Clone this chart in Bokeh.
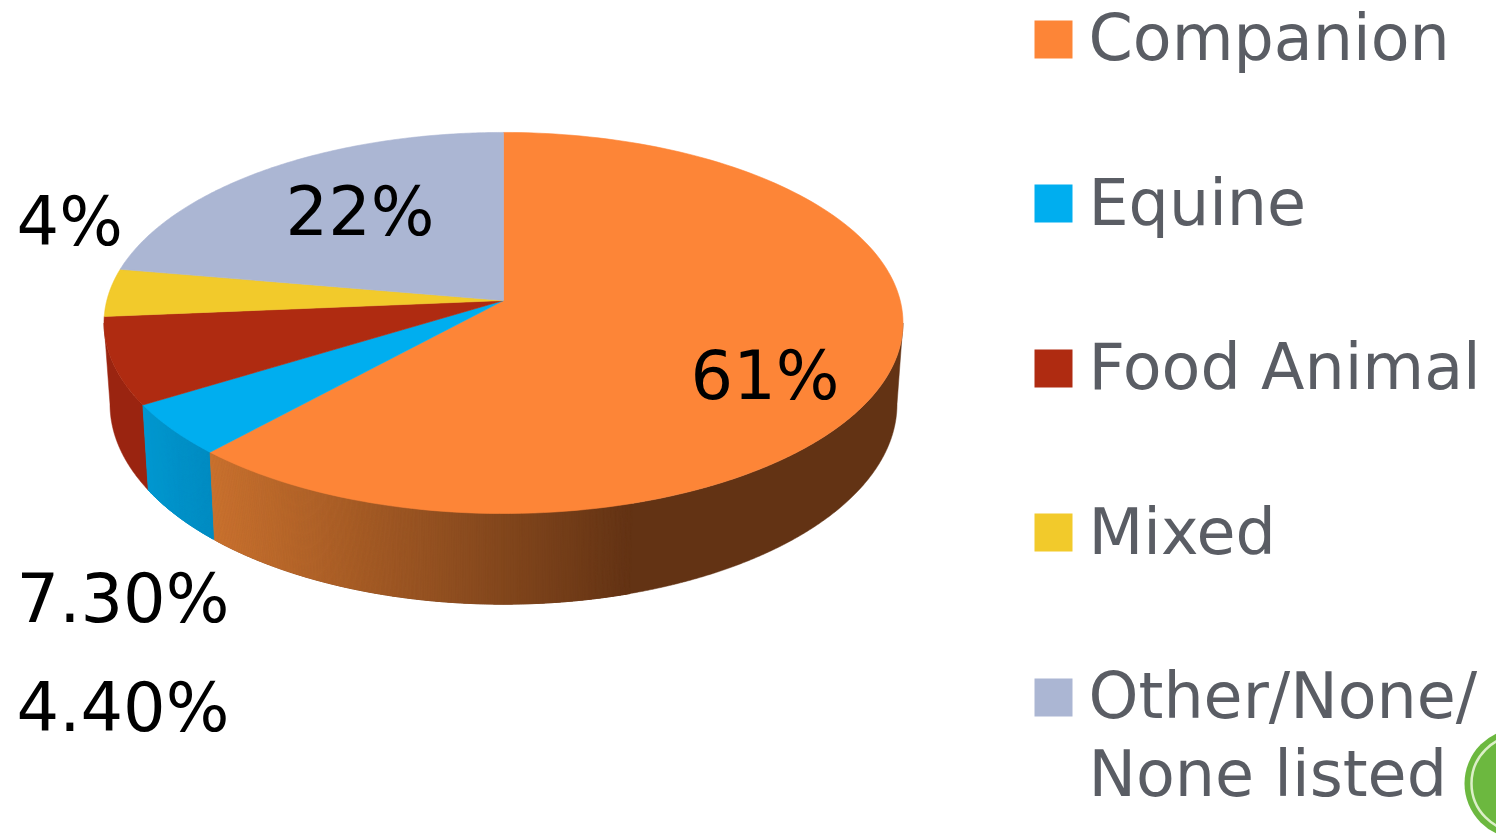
import numpy as np
from bokeh.plotting import figure
from bokeh.models import Range1d
from bokeh.core.properties import value
from bokeh.embed import file_html
from bokeh.resources import INLINE

categories = ["Companion", "Equine", "Food Animal", "Mixed", "Other/None/\nNone listed"]
shares = [61, 4.4, 7.3, 4, 22]
share_labels = ["61%", "4.40%", "7.30%", "4%", "22%"]
top_colors = ["#fd8537", "#00aeef", "#af2b11", "#f2ca2b", "#abb6d3"]
wall_from = ["#ca722f", "#0098d0", "#9a2410", "#c8a622", "#8d97b0"]
wall_to = ["#633314", "#008cc2", "#9a2410", "#c8a622", "#8d97b0"]

# layout of the drawing
CX, CY = 503.0, 300.0
A, B, K = 396.7, 187.9, 0.118
DEPTH, GROW_Y, SHRINK_X = 80.0, 1.05, 0.985
GRAD_X0, GRAD_X1 = 213.0, 630.0
TEXT_SHIFT = 24
label_pos = [(690, 399), (16, 731), (16, 622), (16, 245), (285, 235)]
legend_y = [20, 184, 349, 513, 678]
legend_base = [61, 226, 390, 555, 719]
LEG_X0, LEG_X1, LEG_SIZE, LEG_TEXT_X = 1034, 1072, 38, 1088
SECOND_LINE = 78


def rim(t):
    u, v = np.sin(t), np.cos(t)
    w = 1 + K * v
    return CX + A * u / w, CY - B * v / w


def lower(t):
    x, y = rim(t)
    return CX + (x - CX) * SHRINK_X, CY + DEPTH + (y - CY) * GROW_Y


def hex_rgb(h):
    return np.array([int(h[i:i + 2], 16) for i in (1, 3, 5)], dtype=float)


def mix(a, b, f):
    c = hex_rgb(a) * (1 - f) + hex_rgb(b) * f
    return "#%02x%02x%02x" % tuple(int(round(n)) for n in c)


fractions = np.array(shares, dtype=float) / sum(shares)
edges = np.concatenate([[0.0], np.cumsum(fractions)]) * 2 * np.pi

p = figure(width=1496, height=835, output_backend="svg", toolbar_location=None,
           x_range=Range1d(0, 1496), y_range=Range1d(835, 0), min_border=0,
           outline_line_color=None, background_fill_color="white", border_fill_color="white")
p.axis.visible = False
p.grid.visible = False

# side wall: only the front part between the two silhouette points is visible
T_RIGHT = np.arccos(-K)
T_LEFT = 2 * np.pi - T_RIGHT
bases = []
strips = []
for i in range(len(shares)):
    a0, a1 = max(edges[i], T_RIGHT), min(edges[i + 1], T_LEFT)
    if a1 <= a0:
        continue
    n = max(2, int((a1 - a0) / 0.004))
    ts = np.linspace(a0, a1, n + 1)
    ux, uy = rim(ts)
    lx, ly = lower(ts)
    bases.append((np.concatenate([ux, lx[::-1]]), np.concatenate([uy, ly[::-1]]), wall_to[i]))
    for j in range(n):
        mx = (lx[j] + lx[j + 1]) / 2
        if i == 0:
            f = float(np.clip((GRAD_X1 - mx) / (GRAD_X1 - GRAD_X0), 0, 1))
        else:
            f = j / n
        if f <= 0 or wall_from[i] == wall_to[i]:
            continue
        strips.append(([ux[j], ux[j + 1], lx[j + 1], lx[j]], [uy[j], uy[j + 1], ly[j + 1], ly[j]],
                       mix(wall_to[i], wall_from[i], f)))

for bx, by, col in bases:
    p.patch(bx, by, fill_color=col, line_color=col, line_width=0.5)
p.patches([s[0] for s in strips], [s[1] for s in strips], fill_color=[s[2] for s in strips],
          line_color=[s[2] for s in strips], line_width=0.8)

# top of the pie
for i in range(len(shares)):
    ts = np.linspace(edges[i], edges[i + 1], 160)
    xs, ys = rim(ts)
    p.patch(np.concatenate([[CX], xs]), np.concatenate([[CY], ys]),
            fill_color=top_colors[i], line_color=top_colors[i], line_width=0.6)

# value labels
for lab, (lx, ly) in zip(share_labels, label_pos):
    p.text([lx], [ly - TEXT_SHIFT], text=[lab], text_font=value("DejaVu Sans"), text_font_size="67px",
           text_color="#000000", text_baseline="alphabetic", text_align="left")

# legend
for cat, y, base, col in zip(categories, legend_y, legend_base, top_colors):
    p.quad(left=[LEG_X0], right=[LEG_X1], top=[y], bottom=[y + LEG_SIZE], fill_color=col, line_color=None)
    for k, line in enumerate(cat.split("\n")):
        p.text([LEG_TEXT_X], [base + k * SECOND_LINE - TEXT_SHIFT], text=[line], text_font=value("DejaVu Sans"),
               text_font_size="63.5px", text_color="#5a5d64", text_baseline="alphabetic", text_align="left")

# green corner badge
p.ellipse([1519], [783], width=[110], height=[110], fill_color="#6cb83f", line_color=None)
p.ellipse([1519], [783], width=[96], height=[96], fill_color="#6cb83f", line_color="#dcefc8", line_width=2.5)

open("out.html", "w").write(file_html(p, INLINE))
